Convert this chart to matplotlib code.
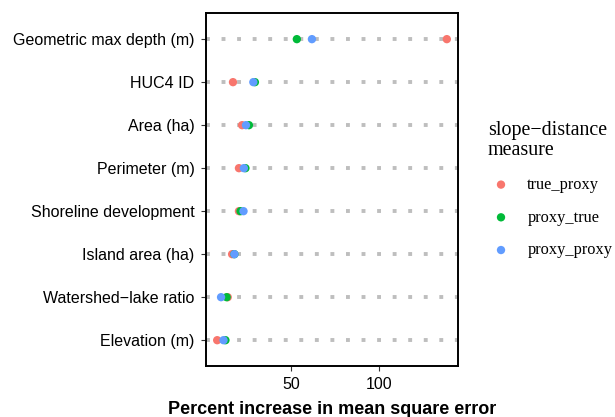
import matplotlib
matplotlib.use("Agg")
import matplotlib.pyplot as plt
import numpy as np

# predictors, bottom to top
variables = ["Elevation (m)", "Watershed\u2212lake ratio", "Island area (ha)",
             "Shoreline development", "Perimeter (m)", "Area (ha)",
             "HUC4 ID", "Geometric max depth (m)"]

# percent increase in MSE for each slope-distance measure
true_proxy = [8.0, 14.0, 16.5, 20.4, 20.4, 22.2, 17.0, 138.9]
proxy_true = [12.7, 13.4, 17.8, 21.3, 24.1, 26.1, 29.5, 53.4]
proxy_proxy = [11.6, 10.2, 17.8, 23.0, 23.2, 24.4, 28.6, 62.0]

series = [("true_proxy", true_proxy, "#F8766D"),
          ("proxy_true", proxy_true, "#00BA38"),
          ("proxy_proxy", proxy_proxy, "#619CFF")]

plt.rcParams["font.family"] = ["Liberation Sans", "DejaVu Sans"]

fig = plt.figure(figsize=(6.15, 4.17), dpi=100)
ax = fig.add_axes([0.3345, 0.1223, 0.4107, 0.8457])

ypos = np.arange(1, len(variables) + 1)
for y in ypos:
    ax.axhline(y, color="#BEBEBE", linewidth=2.8, linestyle=(0, (1, 3.0)),
               zorder=1)

for name, vals, col in series:
    ax.scatter(vals, ypos, s=36, color=col, label=name, zorder=3,
               edgecolors="none")

allv = np.array(true_proxy + proxy_true + proxy_proxy)
lo, hi = allv.min(), allv.max()
pad = (hi - lo) * 0.05
ax.set_xlim(lo - pad, hi + pad)
ax.set_ylim(0.4, len(variables) + 0.6)

ax.set_yticks(ypos)
ax.set_yticklabels(variables, fontsize=11.5, color="black")
ax.set_xticks([50, 100])
ax.set_xticklabels(["50", "100"], fontsize=11.5, color="black")
ax.tick_params(axis="both", length=3.6, width=0.8, color="#333333", pad=4.5)
for sp in ax.spines.values():
    sp.set_linewidth(1.4)
    sp.set_color("black")

ax.set_xlabel("Percent increase in mean square error", fontsize=13,
              fontweight="bold", labelpad=6)

leg = ax.legend(loc="upper left", bbox_to_anchor=(0.780, 0.73),
                bbox_transform=fig.transFigure, frameon=False,
                title="slope\u2212distance\nmeasure",
                prop={"family": "Liberation Serif", "size": 11.8},
                title_fontproperties={"family": "Liberation Serif", "size": 14.4},
                alignment="left", handlelength=1.6, handletextpad=0.8,
                labelspacing=1.02, borderpad=0, markerscale=1.0)
leg.get_title().set_linespacing(1.1)

fig.savefig("out.png", dpi=100)
